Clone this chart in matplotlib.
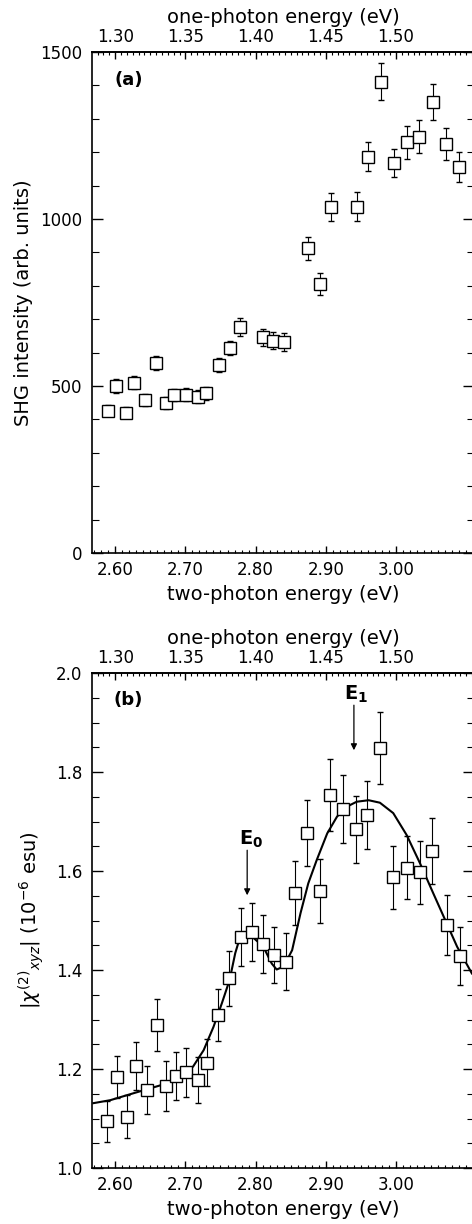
import numpy as np
import matplotlib
matplotlib.use('Agg')
import matplotlib.pyplot as plt
from matplotlib.ticker import MultipleLocator, FixedLocator

plt.rcParams['font.family'] = ['DejaVu Sans']
plt.rcParams['mathtext.fontset'] = 'dejavusans'

# panel (a): SHG intensity
e_a = [2.590, 2.601, 2.616, 2.627, 2.643, 2.658, 2.673, 2.684, 2.701, 2.718,
       2.730, 2.748, 2.763, 2.778, 2.810, 2.825, 2.841, 2.874, 2.891, 2.908,
       2.944, 2.960, 2.979, 2.997, 3.015, 3.033, 3.052, 3.071, 3.089]
shg = [426, 500, 420, 510, 458, 570, 450, 473, 474, 468,
       478, 563, 613, 676, 646, 636, 633, 912, 805, 1037,
       1037, 1187, 1411, 1167, 1230, 1247, 1351, 1225, 1155]
shg_err = [17, 20, 17, 20, 18, 21, 18, 19, 19, 19,
           19, 22, 21, 27, 25, 26, 27, 34, 32, 42,
           43, 44, 56, 42, 49, 49, 54, 48, 45]

# panel (b): |chi(2)_xyz|
e_b = [2.589, 2.602, 2.617, 2.629, 2.645, 2.659, 2.673, 2.687, 2.701, 2.718,
       2.731, 2.747, 2.762, 2.779, 2.795, 2.810, 2.826, 2.843, 2.856, 2.873,
       2.891, 2.906, 2.924, 2.943, 2.959, 2.977, 2.996, 3.015, 3.034, 3.051,
       3.072, 3.091]
chi = [1.094, 1.184, 1.104, 1.206, 1.158, 1.289, 1.166, 1.186, 1.193, 1.178,
       1.213, 1.309, 1.383, 1.467, 1.477, 1.453, 1.430, 1.417, 1.555, 1.677,
       1.560, 1.754, 1.725, 1.684, 1.713, 1.848, 1.587, 1.607, 1.597, 1.640,
       1.491, 1.428]
chi_err = [0.042, 0.043, 0.044, 0.049, 0.048, 0.053, 0.051, 0.048, 0.049, 0.047,
           0.048, 0.053, 0.056, 0.059, 0.059, 0.059, 0.057, 0.058, 0.065, 0.067,
           0.065, 0.073, 0.069, 0.068, 0.069, 0.073, 0.063, 0.064, 0.064, 0.067,
           0.060, 0.058]

# fitted curve
fit_e = [2.569, 2.593, 2.626, 2.650, 2.674, 2.697, 2.711, 2.726, 2.740, 2.752,
         2.763, 2.771, 2.778, 2.790, 2.811, 2.823, 2.830, 2.840, 2.852, 2.864,
         2.875, 2.887, 2.902, 2.916, 2.930, 2.944, 2.961, 2.977, 2.996, 3.015,
         3.034, 3.053, 3.070, 3.087, 3.108]
fit_chi = [1.131, 1.137, 1.151, 1.161, 1.171, 1.188, 1.205, 1.238, 1.285, 1.333,
           1.380, 1.434, 1.467, 1.474, 1.447, 1.413, 1.401, 1.407, 1.440, 1.515,
           1.575, 1.622, 1.676, 1.710, 1.730, 1.740, 1.743, 1.738, 1.717, 1.673,
           1.616, 1.555, 1.501, 1.447, 1.393]

bottom_ticks = [2.60, 2.70, 2.80, 2.90, 3.00]
top_ticks = [1.30, 1.35, 1.40, 1.45, 1.50]
xlim = (2.567, 3.111)


def half(x):
    return x / 2.0


def double(x):
    return x * 2.0


def style_axes(ax):
    ax.set_xlim(*xlim)
    ax.xaxis.set_major_locator(FixedLocator(bottom_ticks))
    ax.xaxis.set_major_formatter(plt.FormatStrFormatter('%.2f'))
    ax.xaxis.set_minor_locator(MultipleLocator(0.01))
    ax.tick_params(axis='x', which='both', direction='in', top=False,
                   labelsize=12, pad=6)
    ax.tick_params(axis='x', which='major', length=5, width=1)
    ax.tick_params(axis='x', which='minor', length=2.5, width=0.8)
    ax.tick_params(axis='y', which='both', direction='in', right=True,
                   labelsize=12, pad=7)
    ax.tick_params(axis='y', which='major', length=8, width=1)
    ax.tick_params(axis='y', which='minor', length=5, width=0.8)
    for s in ax.spines.values():
        s.set_linewidth(1.2)
    ax.set_xlabel('two-photon energy (eV)', fontsize=14, labelpad=4)

    sec = ax.secondary_xaxis('top', functions=(half, double))
    sec.xaxis.set_major_locator(FixedLocator(top_ticks))
    sec.xaxis.set_major_formatter(plt.FormatStrFormatter('%.2f'))
    sec.xaxis.set_minor_locator(MultipleLocator(0.05 / 12))
    sec.tick_params(axis='x', which='both', direction='in', labelsize=12, pad=4)
    sec.tick_params(axis='x', which='major', length=5, width=1)
    sec.tick_params(axis='x', which='minor', length=2.5, width=0.8)
    sec.spines['top'].set_linewidth(1.2)
    sec.set_xlabel('one-photon energy (eV)', fontsize=14, labelpad=4)
    return sec


fig = plt.figure(figsize=(4.72, 12.24), dpi=100)

# (a)
ax1 = fig.add_axes([0.1949, 0.5482, 0.8093, 0.4093])
ax1.errorbar(e_a, shg, yerr=shg_err, fmt='s', ms=8.8, mfc='white', mec='black',
             mew=1.0, ecolor='black', elinewidth=0.8, capsize=2.4, capthick=0.8,
             zorder=3)
ax1.set_ylim(0, 1500)
ax1.yaxis.set_major_locator(MultipleLocator(500))
ax1.yaxis.set_minor_locator(MultipleLocator(100))
style_axes(ax1)
ax1.set_ylabel('SHG intensity (arb. units)', fontsize=14)
ax1.yaxis.set_label_coords(-0.155, 0.5)
ax1.text(0.095, 0.945, '(a)', transform=ax1.transAxes, fontsize=13,
         fontweight='bold', ha='center', va='center')

# (b)
ax2 = fig.add_axes([0.1949, 0.04575, 0.8093, 0.4044])
ax2.plot(fit_e, fit_chi, color='black', lw=1.5, zorder=1)
ax2.errorbar(e_b, chi, yerr=chi_err, fmt='s', ms=8.8, mfc='white', mec='black',
             mew=1.0, ecolor='black', elinewidth=0.8, capsize=2.4, capthick=0.8,
             zorder=3)
ax2.set_ylim(1.0, 2.0)
ax2.yaxis.set_major_locator(MultipleLocator(0.2))
ax2.yaxis.set_minor_locator(MultipleLocator(0.05))
ax2.yaxis.set_major_formatter(plt.FormatStrFormatter('%.1f'))
style_axes(ax2)
ax2.set_ylabel(r'$|\chi^{(2)}{}_{xyz}|$ (10$^{-6}$ esu)', fontsize=14)
ax2.yaxis.set_label_coords(-0.12, 0.5)
ax2.text(0.095, 0.945, '(b)', transform=ax2.transAxes, fontsize=13,
         fontweight='bold', ha='center', va='center')

arrow = dict(arrowstyle='-|>', color='black', lw=0.9, mutation_scale=9,
             shrinkA=0, shrinkB=0)
ax2.annotate('', xy=(2.940, 1.844), xytext=(2.940, 1.935), arrowprops=arrow)
ax2.text(2.943, 1.957, r'$\mathbf{E_1}$', fontsize=14, ha='center', va='center')
ax2.annotate('', xy=(2.788, 1.551), xytext=(2.788, 1.642), arrowprops=arrow)
ax2.text(2.793, 1.664, r'$\mathbf{E_0}$', fontsize=14, ha='center', va='center')

fig.savefig('out.png', dpi=100)
